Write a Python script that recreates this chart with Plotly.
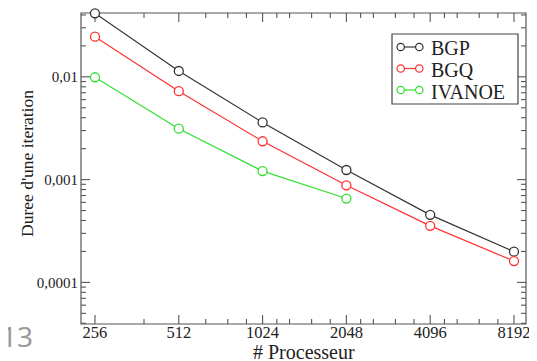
import math
import plotly.graph_objects as go

# ---- data ----
processors = [256, 512, 1024, 2048, 4096, 8192]
series_names = ["BGP", "BGQ", "IVANOE"]
bgp = [0.0415, 0.0114, 0.0036, 0.00124, 0.000454, 0.000199]
bgq = [0.0246, 0.00725, 0.00236, 0.00088, 0.000355, 0.000161]
ivanoe = [0.0099, 0.00313, 0.00121, 0.000654]
series_values = [bgp, bgq, ivanoe]
series_colors = ["#333333", "#ff3030", "#30e030"]

x_tick_vals = [256, 512, 1024, 2048, 4096, 8192]
x_tick_text = ["256", "512", "1024", "2048", "4096", "8192"]
x_minor_vals = [384, 640, 768, 896, 1152, 1280, 1536, 1792, 2304, 2560, 3072,
                3584, 4608, 5120, 6144, 7168]
y_tick_vals = [0.0001, 0.001, 0.01]
y_tick_text = ["0,0001", "0,001", "0,01"]
y_minor_vals = [m * 10.0 ** e for e in (-5, -4, -3, -2) for m in range(2, 10)]

# page body adds an 8px offset; the figure is sized so the plot lands in place
OFF = 8
W, H = 537 - OFF, 361 - OFF
L, R, T, B = 81 - OFF, 11, 13 - OFF, 37
PW, PH = W - L - R, H - T - B
X_RANGE = [2.358, 3.9565]
Y_RANGE = [-4.405, -1.379]


def px(xpix):
    # xpix in screenshot pixels
    return (xpix - OFF - L) / PW


def py(ypix):
    return (OFF + H - B - ypix) / PH


def xfrac(v):
    return (math.log10(v) - X_RANGE[0]) / (X_RANGE[1] - X_RANGE[0])


def yfrac(v):
    return (math.log10(v) - Y_RANGE[0]) / (Y_RANGE[1] - Y_RANGE[0])


SERIF = "Liberation Serif"
AXIS_COL = "#555555"

fig = go.Figure()
for name, vals, col in zip(series_names, series_values, series_colors):
    fig.add_trace(go.Scatter(
        x=processors[:len(vals)], y=vals, name=name, mode="lines+markers",
        line=dict(color=col, width=1.2),
        marker=dict(symbol="circle", size=9, color="white",
                    line=dict(color=col, width=1.3)),
        cliponaxis=False, showlegend=False,
    ))

fig.update_xaxes(
    type="log", range=X_RANGE, showline=False, ticks="", showgrid=False,
    zeroline=False, automargin=False, anchor="free", position=4.0 / PH,
    tickmode="array", tickvals=x_tick_vals, ticktext=x_tick_text,
    tickfont=dict(family=SERIF, size=16.5, color="#222222"),
)
fig.update_yaxes(
    type="log", range=Y_RANGE, showline=False, ticks="", showgrid=False,
    zeroline=False, automargin=False,
    tickmode="array", tickvals=y_tick_vals, ticktext=y_tick_text,
    tickfont=dict(family=SERIF, size=15, color="#222222"),
    ticklabelstandoff=2,
)

shapes = []
annotations = []

# frame
shapes.append(dict(type="rect", xref="paper", yref="paper", x0=0, x1=1,
                   y0=0, y1=1, line=dict(color=AXIS_COL, width=1.2),
                   layer="below"))

# ticks (inside, on all four sides)
MAJ, MIN = 9.0, 5.0
for vals, ln in ((x_tick_vals, MAJ), (x_minor_vals, MIN)):
    for v in vals:
        f = xfrac(v)
        for y0, y1 in ((0, ln / PH), (1, 1 - ln / PH)):
            shapes.append(dict(type="line", xref="paper", yref="paper",
                               x0=f, x1=f, y0=y0, y1=y1, layer="below",
                               line=dict(color=AXIS_COL, width=1.1)))
for vals, ln in ((y_tick_vals, MAJ), (y_minor_vals, MIN)):
    for v in vals:
        f = yfrac(v)
        if not (0 <= f <= 1):
            continue
        for x0, x1 in ((0, ln / PW), (1, 1 - ln / PW)):
            shapes.append(dict(type="line", xref="paper", yref="paper",
                               x0=x0, x1=x1, y0=f, y1=f, layer="below",
                               line=dict(color=AXIS_COL, width=1.1)))

# legend box
shapes.append(dict(type="rect", xref="paper", yref="paper",
                   x0=px(392), x1=px(518), y0=py(104), y1=py(34),
                   line=dict(color="#444444", width=1.2), fillcolor="white",
                   layer="above"))
legend_rows = [47, 68.5, 90]
rad = 3.7
for name, col, yy in zip(series_names, series_colors, legend_rows):
    shapes.append(dict(type="line", xref="paper", yref="paper",
                       x0=px(400.7), x1=px(419.3), y0=py(yy), y1=py(yy),
                       line=dict(color=col, width=1.2), layer="above"))
    for cx in (400.7, 419.3):
        shapes.append(dict(type="circle", xref="paper", yref="paper",
                           x0=px(cx - rad), x1=px(cx + rad),
                           y0=py(yy + rad), y1=py(yy - rad),
                           line=dict(color=col, width=1.2), fillcolor="white",
                           layer="above"))
    annotations.append(dict(text=name, xref="paper", yref="paper",
                            x=px(429), y=py(yy + 1.5), xanchor="left",
                            yanchor="middle", showarrow=False,
                            font=dict(family=SERIF, size=20, color="#222222")))

# axis titles
annotations.append(dict(text="# Processeur", xref="paper", yref="paper",
                        x=px(303.5), y=py(352), xanchor="center",
                        yanchor="middle", showarrow=False,
                        font=dict(family=SERIF, size=20, color="#222222")))
annotations.append(dict(text="Duree d'une iteration", xref="paper",
                        yref="paper", x=px(27), y=py(164), xanchor="center",
                        yanchor="middle", textangle=-90, showarrow=False,
                        font=dict(family=SERIF, size=17.5, color="#222222")))
# slide page number
annotations.append(dict(text="13", xref="paper", yref="paper",
                        x=px(-1), y=py(336), xanchor="left", yanchor="middle",
                        showarrow=False,
                        font=dict(family="Noto Sans", size=28, color="#9a9a9a")))

fig.update_layout(
    width=W, height=H,
    margin=dict(l=L, r=R, t=T, b=B, pad=0, autoexpand=False),
    paper_bgcolor="white", plot_bgcolor="white",
    shapes=shapes, annotations=annotations,
    showlegend=False,
)

fig.write_html("out.html")
